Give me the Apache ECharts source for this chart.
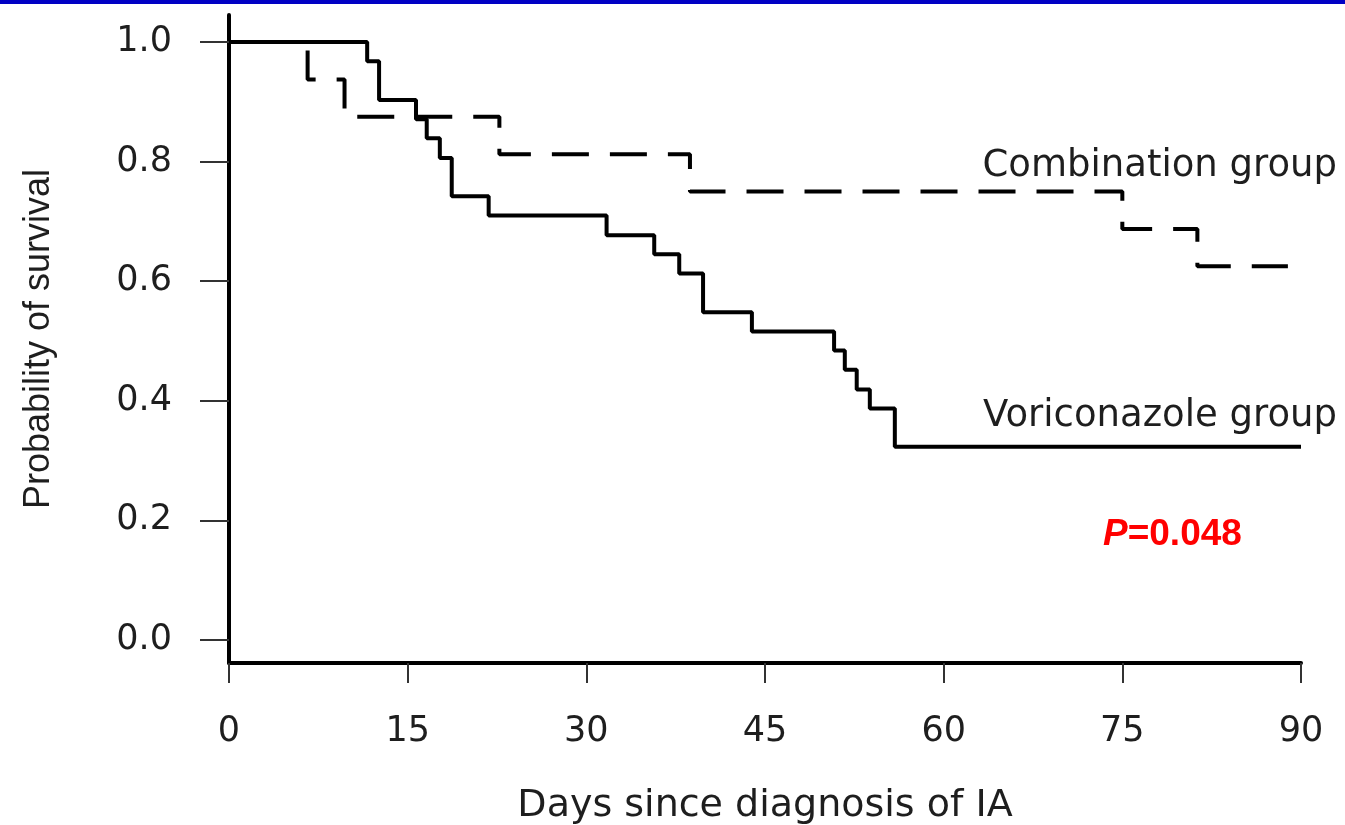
<!DOCTYPE html>
<html>
<head>
<meta charset="utf-8">
<script src="https://cdn.jsdelivr.net/npm/echarts@6/dist/echarts.min.js"></script>
<style>
  html, body { margin: 0; padding: 0; background: #ffffff; }
  #wrap { position: relative; width: 1345px; height: 825px; overflow: hidden; }
  #topbar { position: absolute; left: 0; top: 0; width: 1345px; height: 4px; background: #0000c4; z-index: 10; }
  #chart { position: absolute; left: 0; top: 0; width: 1345px; height: 825px; }
</style>
</head>
<body>
<div id="wrap">
  <div id="topbar"></div>
  <div id="chart"></div>
</div>
<script>
// ---- data ----
const vorDays = [0, 11.6, 12.6, 15.7, 16.6, 17.7, 18.7, 21.8, 31.7, 35.7, 37.8, 39.8, 43.9, 50.8, 51.7, 52.7, 53.8, 55.9, 90];
const vorSurv = [1.0, 0.968, 0.903, 0.871, 0.839, 0.806, 0.742, 0.710, 0.677, 0.645, 0.613, 0.548, 0.516, 0.484, 0.452, 0.419, 0.387, 0.323, 0.323];
const comDays = [0, 6.6, 9.7, 22.7, 38.7, 75.0, 81.3, 88.9];
const comSurv = [1.0, 0.9375, 0.875, 0.8125, 0.75, 0.6875, 0.625, 0.625];
const xTicks = [0, 15, 30, 45, 60, 75, 90];
const yTicks = [0.0, 0.2, 0.4, 0.6, 0.8, 1.0];
const xTitle = 'Days since diagnosis of IA';
const yTitle = 'Probability of survival';
const comLabel = 'Combination group';
const vorLabel = 'Voriconazole group';
const pLabelItalic = 'P';
const pLabelRest = '=0.048';

const zip = (a, b) => a.map((v, i) => [v, b[i]]);

const chart = echarts.init(document.getElementById('chart'), null, { renderer: 'canvas' });
const textColor = '#1e1e1e';
const tickFont = 'DejaVu Sans';

chart.setOption({
  animation: false,
  backgroundColor: '#ffffff',
  grid: { left: 229, right: 44, top: 15, bottom: 162, containLabel: false, outerBoundsMode: 'none' },
  xAxis: {
    type: 'value',
    min: 0, max: 90, interval: 15,
    axisLine: { show: true, onZero: false, lineStyle: { color: '#000', width: 4 } },
    axisTick: { show: true, length: 20, customValues: xTicks, lineStyle: { color: '#333', width: 2 } },
    axisLabel: { show: true, customValues: xTicks, margin: 51, color: textColor, fontFamily: tickFont, fontSize: 35, showMinLabel: true, showMaxLabel: true },
    splitLine: { show: false },
    name: xTitle,
    nameLocation: 'middle',
    nameGap: 124,
    nameTextStyle: { color: textColor, fontFamily: tickFont, fontSize: 38 }
  },
  yAxis: {
    type: 'value',
    min: -0.0385, max: 1.0452,
    axisLine: { show: true, onZero: false, lineStyle: { color: '#000', width: 4 } },
    axisTick: { show: true, length: 29, customValues: yTicks, lineStyle: { color: '#333', width: 2 } },
    axisLabel: { show: true, customValues: yTicks, margin: 57, color: textColor, fontFamily: tickFont, fontSize: 35,
      formatter: v => Number(v).toFixed(1) },
    splitLine: { show: false },
    name: yTitle,
    nameLocation: 'middle',
    nameGap: 172,
    nameRotate: 90,
    nameTextStyle: { color: textColor, fontFamily: 'Liberation Sans', fontSize: 36 }
  },
  series: [
    {
      name: 'Combination group',
      type: 'line',
      step: 'end',
      symbol: 'none',
      clip: false,
      data: zip(comDays, comSurv),
      lineStyle: { color: '#000', width: 4, type: [37, 21], dashOffset: 29, cap: 'butt' },
      z: 2
    },
    {
      name: 'Voriconazole group',
      type: 'line',
      step: 'end',
      symbol: 'none',
      clip: false,
      data: zip(vorDays, vorSurv),
      lineStyle: { color: '#000', width: 4, type: 'solid' },
      z: 3
    }
  ],
  graphic: [
    { type: 'text', z: 10, style: { text: comLabel, x: 1337, y: 166, textAlign: 'right', textVerticalAlign: 'middle',
        font: "37px 'DejaVu Sans'", fill: textColor } },
    { type: 'text', z: 10, style: { text: vorLabel, x: 1337, y: 416, textAlign: 'right', textVerticalAlign: 'middle',
        font: "37px 'DejaVu Sans'", fill: textColor } },
    { type: 'text', z: 10, style: {
        x: 1103, y: 535, textVerticalAlign: 'middle',
        text: '{p|' + pLabelItalic + '}{v|' + pLabelRest + '}',
        rich: {
          p: { fontFamily: 'Liberation Sans', fontSize: 37, fontWeight: 'bold', fontStyle: 'italic', fill: '#ff0000', color: '#ff0000' },
          v: { fontFamily: 'Liberation Sans', fontSize: 37, fontWeight: 'bold', fill: '#ff0000', color: '#ff0000' }
        }
    } }
  ]
});
</script>
</body>
</html>
